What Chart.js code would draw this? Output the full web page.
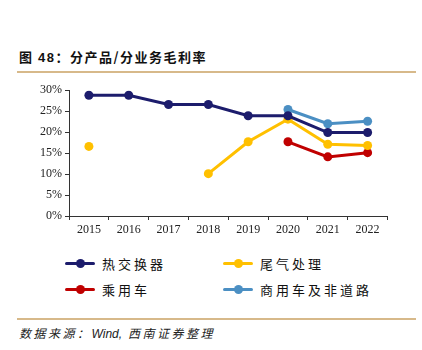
<!DOCTYPE html>
<html>
<head>
<meta charset="utf-8">
<script src="https://cdn.jsdelivr.net/npm/chart.js@4"></script>
<style>
  html, body { margin: 0; padding: 0; background: #fff; }
  body { width: 422px; height: 350px; position: relative; overflow: hidden; font-family: "Noto Sans CJK SC", sans-serif; }
  .title { position: absolute; left: 19px; top: 47px; font-size: 13px; font-weight: bold; letter-spacing: 1.5px; color: #111; }
  .title .num { font-family: "Liberation Sans", "Noto Sans CJK SC", sans-serif; }
  .rule { position: absolute; left: 17px; width: 399px; height: 2px; background: #d7b98a; }
  #wrap { position: absolute; left: 20px; top: 80px; width: 372px; height: 165px; }
  .item { position: absolute; font-size: 13px; letter-spacing: 3px; color: #111; line-height: 16px; white-space: nowrap; }
  .item i { position: absolute; top: 6px; height: 3px; width: 30px; border-radius: 2px; }
  .item b { position: absolute; top: 3px; width: 9px; height: 9px; border-radius: 50%; left: 11px; }
  .src { position: absolute; left: 19px; top: 324px; font-size: 12px; font-style: italic; color: #222; letter-spacing: 2.5px; white-space: nowrap; }
  .src .en { font-family: "Liberation Sans", sans-serif; letter-spacing: 0; margin-right: 6px; }
</style>
</head>
<body>
<div class="title">图 <span class="num">48</span>：分产品/分业务毛利率</div>
<div class="rule" style="top:71px"></div>
<div id="wrap"><canvas id="c"></canvas></div>
<div id="legend"></div>
<div class="rule" style="top:318px"></div>
<div class="src">数据来源：<span class="en">Wind,</span>西南证券整理</div>
<script>
const years = ['2015', '2016', '2017', '2018', '2019', '2020', '2021', '2022']
const heatExchanger = [28.8, 28.8, 26.6, 26.6, 23.9, 23.9, 19.9, 19.9]
const exhaust = [16.6, null, null, 10.1, 17.7, 23.1, 17.1, 16.8]
const passenger = [null, null, null, null, null, 17.7, 14.1, 15.1]
const commercial = [null, null, null, null, null, 25.4, 22.0, 22.6]
const yTicks = [0, 5, 10, 15, 20, 25, 30]

const series = [
  { label: '热交换器', data: heatExchanger, color: '#1c1c6c', x: 65, y: 256 },
  { label: '尾气处理', data: exhaust, color: '#ffc000', x: 223, y: 256 },
  { label: '乘用车', data: passenger, color: '#c00000', x: 65, y: 282 },
  { label: '商用车及非道路', data: commercial, color: '#4b8fc3', x: 223, y: 282 }
]

// legend
const legend = document.getElementById('legend')
series.forEach(s => {
  const el = document.createElement('div')
  el.className = 'item'
  el.style.left = s.x + 'px'
  el.style.top = s.y + 'px'
  el.innerHTML = `<i style="background:${s.color}"></i><b style="background:${s.color}"></b><span style="margin-left:37px">${s.label}</span>`
  legend.appendChild(el)
})

const axisColor = '#333'
const tickFont = { family: 'Liberation Serif', size: 12 }

new Chart(document.getElementById('c'), {
  type: 'line',
  data: {
    labels: years,
    datasets: series.map(s => ({
      label: s.label,
      data: s.data,
      borderColor: s.color,
      backgroundColor: s.color,
      borderWidth: 3,
      pointRadius: 4.5,
      pointBorderWidth: 0,
      spanGaps: false,
      tension: 0
    }))
  },
  options: {
    responsive: true,
    maintainAspectRatio: false,
    animation: false,
    layout: { padding: { top: 9, right: 2, left: 0, bottom: 0 } },
    plugins: { legend: { display: false }, tooltip: { enabled: false } },
    scales: {
      x: {
        offset: true,
        grid: { offset: true, drawOnChartArea: false, drawTicks: true, tickLength: 4, color: axisColor },
        border: { display: true, color: axisColor, width: 1 },
        ticks: { color: '#222', font: tickFont, padding: 3, maxRotation: 0 },
        afterFit: s => { s.height = 29 }
      },
      y: {
        min: 0,
        max: 30,
        afterBuildTicks: s => { s.ticks = yTicks.map(v => ({ value: v })) },
        grid: { drawOnChartArea: false, drawTicks: true, tickLength: 4, color: axisColor },
        border: { display: true, color: axisColor, width: 1 },
        ticks: { color: '#222', font: tickFont, padding: 3, callback: v => v + '%' },
        afterFit: s => { s.width = 49 }
      }
    }
  }
})
</script>
</body>
</html>
